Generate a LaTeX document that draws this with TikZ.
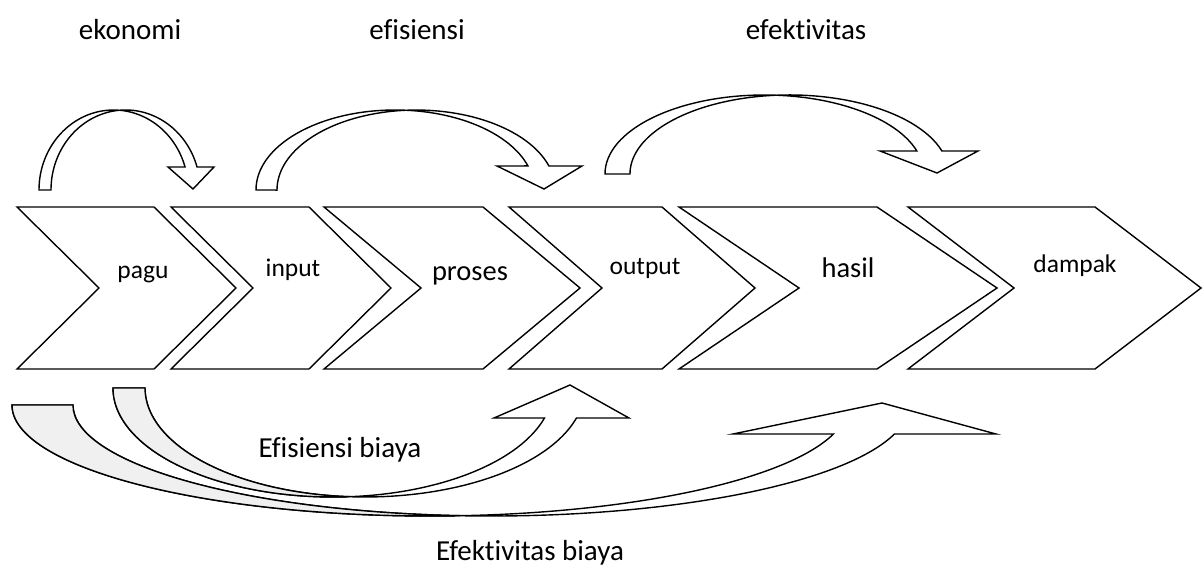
\documentclass[tikz,border=0pt]{standalone}
\usepackage{fontspec}
\setmainfont{Carlito}[Ligatures=NoCommon]
\begin{document}
\begin{tikzpicture}[x=1pt, y=-1pt, line width=1.4pt,
		chevron/.style={draw, fill=white},
		block arrow/.style={draw, fill=white},
		back side/.style={draw, fill=gray!12},
		big label/.style={font=\fontsize{29}{34}\selectfont, anchor=base}]

	\useasboundingbox (0,0) rectangle (1203,580);

			% chevrons
			\foreach \xl/\xr/\d in {17/154/82, 171/309/82, 324/483/97, 509/662/93, 679/877/120, 908/1095/106}
				\draw [chevron] (\xl,207) -- (\xr,207) -- (\xr+\d,288) -- (\xr,369) -- (\xl,369) -- (\xl+\d,288) -- cycle;

			% chevron labels
			\foreach \l/\x/\y/\s in {pagu/143/279/25.5, input/293/277/25.5, proses/470/280/28.5, output/645/275/25.5, hasil/848/278/28.5, dampak/1075/273/25.5}
				\node [anchor=base, font=\fontsize{\s}{\s}\selectfont] (\l) at (\x,\y) {\l};

			% headings
			\foreach \l/\x in {ekonomi/130, efisiensi/417, efektivitas/806}
				\node [big label] (\l) at (\x,40) {\l};

			% arrows above
			\foreach \c/\yc/\a/\b/\t/\h/\hy/\lw/\tx/\ty/\rw in {113.6/190/74.6/80/12/343.3/167/168/193/189/214, 395.2/190/139.2/80/21/342.5/166/497/544/189/582, 764.4/174/159.4/79/25/343.1/151/880/937/173/978}
				\draw [block arrow] (\c-\a,\yc) arc [start angle=180, end angle=\h, x radius=\a, y radius=\b]
					-- (\lw,\hy) -- (\tx,\ty) -- (\rw,\hy) -- ({\c+\t+\a*cos(\h)},\hy)
					arc [start angle=\h, end angle=180, x radius=\a, y radius=\b] -- cycle;

			% arrows below
			\foreach \c/\yc/\a/\b/\t/\h/\hy/\lw/\tx/\ty/\rw/\m/\n in {430/405/418/111/61/15.15/434/733/882/403/996/85.82/94.18, 333/388/220/109/32/16/418/494/570/385/629/85.83/94.17}
			{
				\draw [block arrow] (\c-\a,\yc) arc [start angle=180, end angle=\h, x radius=\a, y radius=\b]
					-- (\lw,\hy) -- (\tx,\ty) -- (\rw,\hy) -- ({\c+\t+\a*cos(\h)},\hy)
					arc [start angle=\h, end angle=180, x radius=\a, y radius=\b] -- cycle;
				\draw [back side] (\c-\a,\yc) arc [start angle=180, end angle=\m, x radius=\a, y radius=\b]
					arc [start angle=\n, end angle=180, x radius=\a, y radius=\b] -- cycle;
			}

			% labels below
			\node [big label] (efisiensi-biaya) at (340,457) {Efisiensi biaya};
			\node [big label] (efektivitas-biaya) at (530,560) {Efektivitas biaya};

\end{tikzpicture}
\end{document}
